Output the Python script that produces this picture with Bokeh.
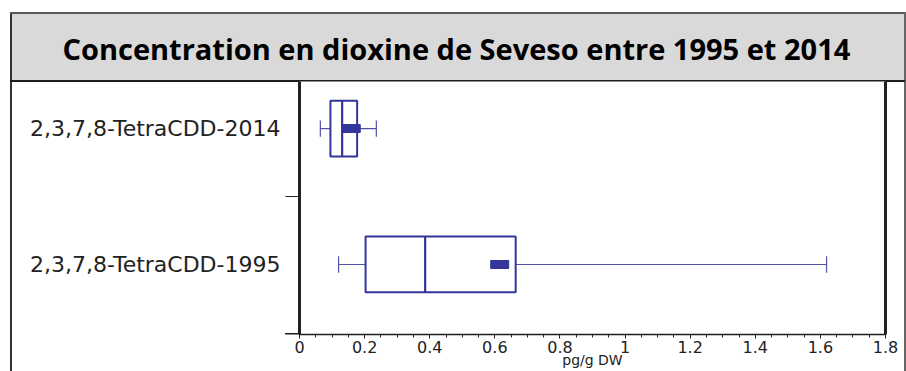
from bokeh.plotting import figure
from bokeh.models import Range1d, FixedTicker, LinearAxis, Title
from bokeh.embed import file_html
from bokeh.resources import INLINE

# ---- data ----
title_text = "Concentration en dioxine de Seveso entre 1995 et 2014"
categories = ["2,3,7,8-TetraCDD-1995", "2,3,7,8-TetraCDD-2014"]
whisker_low = [0.12, 0.064]
q1 = [0.203, 0.095]
median = [0.386, 0.131]
q3 = [0.664, 0.177]
whisker_high = [1.619, 0.236]
mean = [0.615, 0.159]
x_ticks = [0, 0.2, 0.4, 0.6, 0.8, 1.0, 1.2, 1.4, 1.6, 1.8]
x_tick_labels = ["0", "0.2", "0.4", "0.6", "0.8", "1", "1.2", "1.4", "1.6", "1.8"]
x_label = "pg/g DW"

# ---- style ----
BOX = "#33359a"
WHISK = "#5053a8"
DARK = "#231f20"
W, H = 906, 371

pos = list(range(len(categories)))
box_h = 0.41
cap_h = 0.12

p = figure(width=W, height=H, output_backend="svg", toolbar_location=None,
           x_range=Range1d(0, 1.8), y_range=Range1d(-0.515, 1.346),
           min_border_left=299, min_border_right=21,
           min_border_top=81, min_border_bottom=37)
p.xgrid.visible = False
p.ygrid.visible = False
p.outline_line_color = None
p.background_fill_color = "white"
p.border_fill_color = None
# page frame: grey title band and outer border lines (CSS background of the figure)
p.styles = {
    "background-color": "white",
    "background-image": ", ".join(["linear-gradient(#5a5a5a,#5a5a5a)",
                                   "linear-gradient(#1e1e1e,#1e1e1e)",
                                   "linear-gradient(#333333,#333333)",
                                   "linear-gradient(#1e1e1e,#1e1e1e)",
                                   "linear-gradient(#666666,#666666)",
                                   "linear-gradient(#d9d9d9,#d9d9d9)"]),
    "background-position": "10px 12px, 10px 80px, 10px 12px, 285px 333px, 904px 12px, 10px 12px",
    "background-size": "895px 2px, 895px 2px, 2px 400px, 16px 1.5px, 2px 400px, 895px 69px",
    "background-repeat": "no-repeat",
}

# whiskers
p.segment(x0=whisker_low, y0=pos, x1=q1, y1=pos, line_color=WHISK, line_width=1.2)
p.segment(x0=q3, y0=pos, x1=whisker_high, y1=pos, line_color=WHISK, line_width=1.2)
# caps
p.segment(x0=whisker_low, y0=[y - cap_h / 2 for y in pos], x1=whisker_low,
          y1=[y + cap_h / 2 for y in pos], line_color=WHISK, line_width=1.2)
p.segment(x0=whisker_high, y0=[y - cap_h / 2 for y in pos], x1=whisker_high,
          y1=[y + cap_h / 2 for y in pos], line_color=WHISK, line_width=1.2)
# boxes
p.hbar(y=pos, left=q1, right=q3, height=box_h, fill_color="white",
       line_color=BOX, line_width=2)
# medians
p.segment(x0=median, y0=[y - box_h / 2 for y in pos], x1=median,
          y1=[y + box_h / 2 for y in pos], line_color=BOX, line_width=2.2)
# means
p.rect(x=mean, y=pos, width=18, height=8, width_units="screen",
       height_units="screen", fill_color=BOX, line_color=BOX)

# x axis
xa = p.xaxis[0]
xa.ticker = FixedTicker(ticks=x_ticks,
                        minor_ticks=[i * 0.05 for i in range(37)])
xa.major_label_overrides = {t: l for t, l in zip(x_ticks, x_tick_labels)}
xa.major_tick_out = 4
xa.major_tick_in = 0
xa.minor_tick_out = 3
xa.minor_tick_in = 0
xa.axis_line_color = DARK
xa.axis_line_width = 1.5
xa.major_tick_line_color = DARK
xa.minor_tick_line_color = DARK
xa.major_label_text_font = "DejaVu Sans"
xa.major_label_text_font_size = "16px"
xa.major_label_text_color = "#222222"
xa.major_label_standoff = 2
xa.axis_label = x_label
xa.axis_label_text_font = "DejaVu Sans"
xa.axis_label_text_font_style = "normal"
xa.axis_label_text_font_size = "14px"
xa.axis_label_text_color = "#222222"
xa.axis_label_standoff = -4

# y axis
ya = p.yaxis[0]
ya.ticker = FixedTicker(ticks=pos, minor_ticks=[0.5])
ya.major_label_overrides = {i: c for i, c in enumerate(categories)}
ya.major_tick_out = 0
ya.major_tick_in = 0
ya.minor_tick_out = 14
ya.minor_tick_in = 0
ya.minor_tick_line_color = DARK
ya.axis_line_color = DARK
ya.axis_line_width = 3
ya.major_label_text_font = "DejaVu Sans"
ya.major_label_text_font_size = "22px"
ya.major_label_text_color = "#222222"
ya.major_label_standoff = 5

# right frame line
ra = LinearAxis(ticker=FixedTicker(ticks=[]), axis_line_color=DARK,
                axis_line_width=3, major_tick_line_color=None,
                minor_tick_line_color=None, major_label_text_font_size="0px")
p.add_layout(ra, "right")

# title
p.add_layout(Title(text=title_text, align="left", offset=-237, standoff=28,
                   text_font="Open Sans", text_font_style="bold",
                   text_font_size="29px", text_color="black"), "above")

open("out.html", "w").write(file_html(p, INLINE))
